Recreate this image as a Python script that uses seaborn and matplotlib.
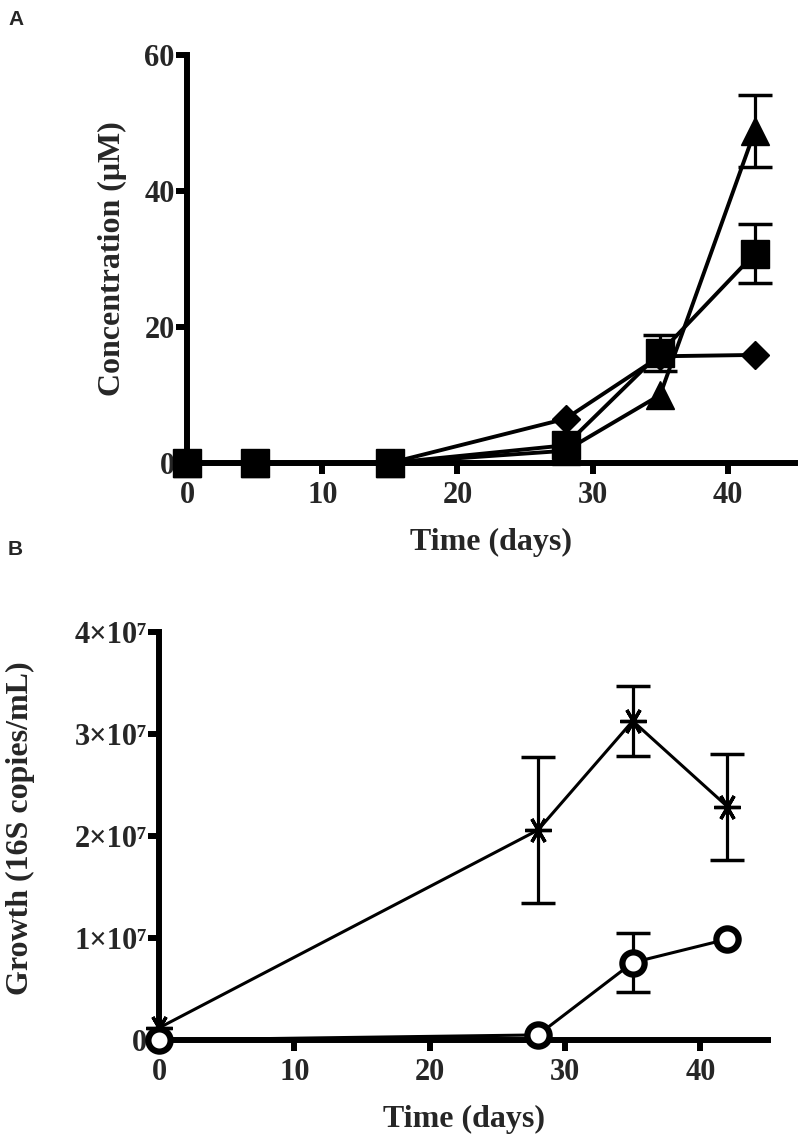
import numpy as np
import pandas as pd
import matplotlib
matplotlib.use("Agg")
import matplotlib.pyplot as plt
import seaborn as sns

# Panel A: concentration (uM)
days_a = [0, 5, 15, 28, 35, 42]
diamond_vals = [0, 0, 0, 6.5, 15.7, 15.9]
triangle_vals = [0, 0, 0, 1.8, 10.0, 48.8]
triangle_err = [0, 0, 0, 0, 0, 5.3]
square_vals = [0, 0, 0, 2.6, 16.2, 30.8]
square_err = [0, 0, 0, 0, 2.7, 4.3]

# Panel B: growth (16S copies/mL)
days_b = [0, 28, 35, 42]
star_vals = [1.2e6, 2.06e7, 3.13e7, 2.29e7]
star_err = [0, 0.72e7, 0.34e7, 0.52e7]
circle_vals = [0, 0.05e7, 0.76e7, 0.99e7]
circle_err = [0, 0, 0.29e7, 0]

ytick_b = [0, 1e7, 2e7, 3e7, 4e7]
ytick_b_labels = ["0", "1×10⁷", "2×10⁷", "3×10⁷", "4×10⁷"]

sns.set_theme(style="ticks")
plt.rcParams["font.family"] = ["Liberation Serif", "DejaVu Serif"]
plt.rcParams["font.weight"] = "bold"

fig = plt.figure(figsize=(8, 11.42), dpi=100)
ax_a = fig.add_axes([0.234, 0.5946, 0.76, 0.357])
ax_b = fig.add_axes([0.199, 0.0893, 0.761, 0.357])

SPINE = 4.3


def draw_series(ax, x, y, err, marker, ms, lw, mfc="black", mew=1.0):
    if err is not None:
        # only the points that carry an error bar
        xe = [a for a, e in zip(x, err) if e > 0]
        ye = [b for b, e in zip(y, err) if e > 0]
        ee = [e for e in err if e > 0]
        ax.errorbar(xe, ye, yerr=ee, fmt="none", ecolor="black", elinewidth=2.3,
                    capsize=12, capthick=2.5, clip_on=False, zorder=3)
    sns.lineplot(x=x, y=y, ax=ax, color="black", linewidth=lw, marker=marker,
                 markersize=ms, markerfacecolor=mfc, markeredgecolor="black",
                 markeredgewidth=mew, clip_on=False, zorder=4)


draw_series(ax_a, days_a, diamond_vals, None, "D", 14, 2.8)
draw_series(ax_a, days_a, triangle_vals, triangle_err, "^", 20, 2.8)
draw_series(ax_a, days_a, square_vals, square_err, "s", 20, 2.8)

draw_series(ax_b, days_b, star_vals, star_err, (6, 2, 90), 19, 2.2, mew=2.4)
draw_series(ax_b, days_b, circle_vals, circle_err, "o", 16, 2.2, mfc="white", mew=4.5)

for ax in (ax_a, ax_b):
    ax.set_xlim(0, 45)
    ax.set_xticks([0, 10, 20, 30, 40])
    for s in ("top", "right"):
        ax.spines[s].set_visible(False)
    for s in ("left", "bottom"):
        ax.spines[s].set_linewidth(SPINE)
        ax.spines[s].set_color("black")
    ax.tick_params(width=SPINE, length=8, labelsize=22, color="black")
    ax.tick_params(axis="x", pad=5)
    ax.tick_params(axis="y", pad=1)
    for lab in ax.get_xticklabels() + ax.get_yticklabels():
        lab.set_fontweight("bold")
    ax.set_xlabel("Time (days)", fontsize=23, fontweight="bold")
    ax.xaxis.set_label_coords(0.5, -0.16)
    ax.grid(False)

ax_a.set_ylim(0, 60)
ax_a.set_yticks([0, 20, 40, 60])
ax_a.set_ylabel("Concentration (μM)", fontsize=23, fontweight="bold")
ax_a.yaxis.set_label_coords(-0.099, 0.5)

ax_b.set_ylim(0, 4e7)
ax_b.set_yticks(ytick_b)
ax_b.set_yticklabels(ytick_b_labels, fontweight="bold")
ax_b.set_ylabel("Growth (16S copies/mL)", fontsize=23, fontweight="bold")
ax_b.yaxis.set_label_coords(-0.204, 0.52)

fig.text(0.01, 0.991, "A", fontsize=15, fontweight="bold", family="Liberation Sans", va="top")
fig.text(0.01, 0.527, "B", fontsize=15, fontweight="bold", family="Liberation Sans", va="top")

fig.savefig("out.png", dpi=100, facecolor="white")
